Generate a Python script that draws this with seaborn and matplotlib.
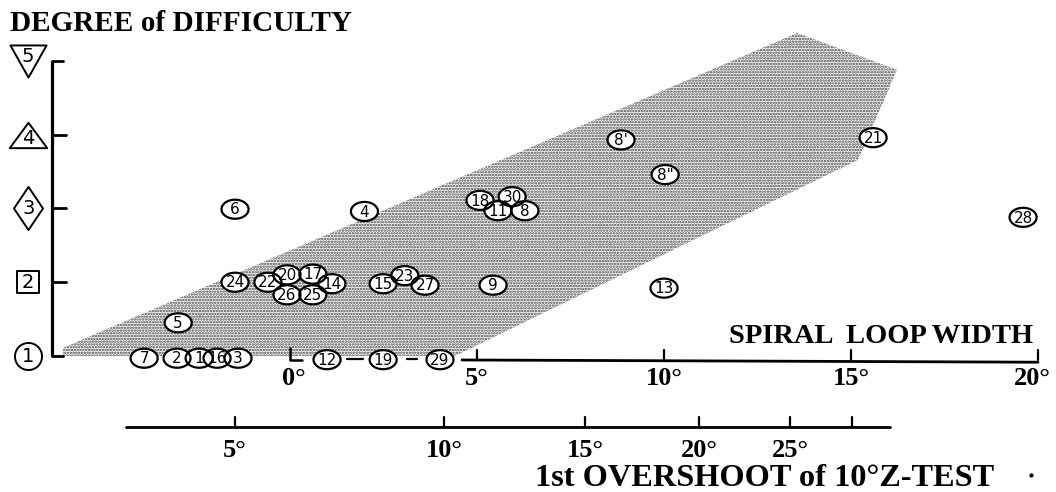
import numpy as np
import pandas as pd
import matplotlib
matplotlib.use("Agg")
import matplotlib.pyplot as plt
from matplotlib.path import Path
import seaborn as sns

# ---------------- data ----------------
point_labels = ["7", "2", "1", "16", "3", "12", "19", "29", "5", "6", "24", "22",
                "20", "17", "14", "26", "25", "4", "15", "23", "27", "9", "18",
                "30", "11", "8", "8\"", "8'", "13", "21", "28"]
spiral_width = [-3.90, -3.02, -2.43, -1.95, -1.39, 0.99, 2.49, 4.01, -2.99, -1.47,
                -1.47, -0.59, -0.08, 0.61, 1.12, -0.08, 0.61, 1.99, 2.49, 3.07,
                3.61, 5.43, 5.08, 5.94, 5.56, 6.28, 10.03, 8.85, 10.0, 15.59, 19.6]
difficulty = [0.97, 0.97, 0.97, 0.97, 0.97, 0.95, 0.95, 0.95, 1.45, 2.99,
              2.00, 2.00, 2.10, 2.11, 1.98, 1.83, 1.83, 2.96, 1.98, 2.09,
              1.96, 1.96, 3.11, 3.16, 2.97, 2.97, 3.46, 3.93, 1.92, 3.96, 2.88]

# shaded band (spiral width, difficulty)
band_x = [-6.07, -6.07, 13.56, 16.23, 15.19, 4.41]
band_y = [1.00, 1.11, 5.38, 4.88, 3.66, 1.00]

# difficulty levels
levels = [1, 2, 3, 4, 5]
level_labels = ["1", "2", "3", "4", "5"]

# spiral loop width axis
spiral_ticks = [0, 5, 10, 15, 20]
spiral_tick_labels = ["0°", "5°", "10°", "15°", "20°"]

# 1st overshoot axis (tick values and their position on spiral scale)
overshoot_ticks = [5, 10, 15, 20, 25, 30]
overshoot_pos = [-1.47, 4.12, 7.89, 10.94, 13.37, 15.03]
overshoot_tick_labels = ["5°", "10°", "15°", "20°", "25°", ""]

# ---------------- figure ----------------
sns.set_theme(style="white")
plt.rcParams["font.family"] = ["DejaVu Sans"]
plt.rcParams["hatch.linewidth"] = 1.2

fig = plt.figure(figsize=(10.56, 4.92), dpi=100)
ax = fig.add_axes([0, 0, 1, 1])
ax.set_xlim(-7.754, 20.48)
ax.set_ylim(-0.844, 5.827)
ax.axis("off")

serif = dict(family="Liberation Serif", weight="bold", color="black")

# band
ax.fill(band_x, band_y, facecolor="white", edgecolor="#404040", hatch="......",
        linewidth=0, zorder=1)

# y axis (difficulty)
yx = -6.36
ax.plot([yx, yx], [1, 5], color="black", lw=2.3, solid_capstyle="butt", zorder=2)
tick_len = [0.30, 0.36, 0.36, 0.36, 0.30]
for lv, tl in zip(levels, tick_len):
    ax.plot([yx, yx + tl], [lv, lv], color="black", lw=2.0, zorder=2)

# level symbols
def closed(v):
    v = list(v)
    return Path(v + [v[0]], [Path.MOVETO] + [Path.LINETO] * (len(v) - 1) + [Path.CLOSEPOLY])

theta = np.linspace(0, 2 * np.pi, 60)
circ = Path(np.column_stack([np.cos(theta), np.sin(theta)]))
sym_markers = {
    1: (circ, 19.5, 0.0),
    2: (closed([(-1, -1), (1, -1), (1, 1), (-1, 1)]), 16, 0.0),
    3: (closed([(0, 21.5), (14.5, 0), (0, -21.5), (-14.5, 0)]), 31, 0.0),
    4: (closed([(-18.5, -12.5), (18.5, -12.5), (0, 12.5)]), 27, -0.05),
    5: (closed([(-18, 16), (18, 16), (0, -16)]), 26, 0.06),
}
sym_x = -7.0
for lv, lab in zip(levels, level_labels):
    mk, sz, dy = sym_markers[lv]
    sns.scatterplot(x=[sym_x], y=[lv], marker=mk, s=sz ** 2, facecolor="white",
                    edgecolor="black", linewidth=1.4, ax=ax, zorder=3, legend=False)
    ax.text(sym_x, lv + dy, lab, ha="center", va="center", fontsize=14,
            color="black", zorder=4)

# spiral loop width axis
sy = 0.946
tk = 0.14
ax.plot([0, 0, 0.32], [sy + 0.16, sy, sy], color="black", lw=1.8, zorder=2)
ax.plot([1.53, 1.95], [sy + 0.02, sy + 0.02], color="black", lw=1.6, zorder=2)
ax.plot([3.13, 3.40], [sy + 0.02, sy + 0.02], color="black", lw=1.6, zorder=2)
ax.plot([4.6, 20.0], [sy, sy - 0.03], color="black", lw=2.0, zorder=2)
for t, lab in zip(spiral_ticks, spiral_tick_labels):
    if t > 0:
        ax.plot([t, t], [sy, sy + tk], color="black", lw=1.6, zorder=2)
    ax.text(t + (0.1 if t == 0 else 0.0) - (0.15 if t == 20 else 0), 0.70, lab,
            ha="center", va="center", fontsize=19, **serif)
ax.text(19.87, 1.27, "SPIRAL  LOOP WIDTH", ha="right", va="center",
        fontsize=20.5, **serif)

# 1st overshoot axis
oy = 0.037
ax.plot([-4.385, 16.04], [oy, oy], color="black", lw=2.0, zorder=2)
for p, lab in zip(overshoot_pos, overshoot_tick_labels):
    ax.plot([p, p], [oy, oy + tk], color="black", lw=1.6, zorder=2)
    ax.text(p, -0.275, lab, ha="center", va="center", fontsize=19, **serif)
ax.text(6.55, -0.66, "1st OVERSHOOT of 10°Z-TEST", ha="left", va="center",
        fontsize=23.3, **serif)
ax.scatter([19.8], [-0.61], s=4, color="black", zorder=2)

# title
ax.text(-7.49, 5.515, "DEGREE of DIFFICULTY", ha="left", va="center",
        fontsize=21.1, **serif)

# data points: ellipse markers with numbers
ell = Path(np.column_stack([1.42 * np.cos(theta), np.sin(theta)]))
df = pd.DataFrame({"width": spiral_width, "difficulty": difficulty,
                   "label": point_labels})
sns.scatterplot(data=df, x="width", y="difficulty", marker=ell, s=19.5 ** 2,
                facecolor="white", edgecolor="none", linewidth=0, ax=ax,
                zorder=5, legend=False)
sns.scatterplot(data=df, x="width", y="difficulty", marker=ell, s=19.5 ** 2,
                facecolor="none", edgecolor="black", linewidth=1.6, ax=ax,
                zorder=6, legend=False)
for _, r in df.iterrows():
    ax.text(r["width"], r["difficulty"] - 0.01, r["label"], ha="center",
            va="center", fontsize=11, color="black", zorder=7)

fig.savefig("out.png", dpi=100)
